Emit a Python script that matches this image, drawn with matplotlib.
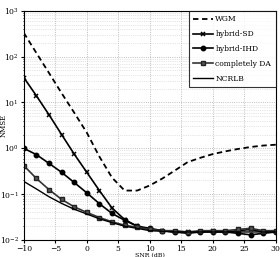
import numpy as np
import matplotlib
matplotlib.use("Agg")
import matplotlib.pyplot as plt

# SNR grid (dB)
snr = [-10, -8, -6, -4, -2, 0, 2, 4, 6, 8, 10, 12, 14, 16, 18, 20, 22, 24, 26, 28, 30]

# NMSE values
wgm = [330, 120, 44, 16, 6.0, 2.2, 0.66, 0.23, 0.12, 0.12, 0.155, 0.22, 0.33, 0.5,
       0.62, 0.75, 0.86, 0.97, 1.07, 1.15, 1.2]
hybrid_sd = [35, 14, 5.4, 2.0, 0.75, 0.30, 0.12, 0.05, 0.028, 0.02, 0.017, 0.016,
             0.015, 0.015, 0.015, 0.016, 0.015, 0.016, 0.017, 0.015, 0.015]
hybrid_ihd = [1.0, 0.73, 0.47, 0.30, 0.18, 0.107, 0.062, 0.038, 0.027, 0.02, 0.018,
              0.016, 0.015, 0.014, 0.015, 0.015, 0.015, 0.014, 0.013, 0.014, 0.015]
comp_da = [0.42, 0.22, 0.126, 0.077, 0.053, 0.04, 0.031, 0.025, 0.021, 0.019, 0.017,
           0.016, 0.016, 0.015, 0.016, 0.016, 0.016, 0.017, 0.018, 0.016, 0.016]
ncrlb = [0.19, 0.13, 0.088, 0.063, 0.047, 0.037, 0.029, 0.024, 0.02, 0.018, 0.016,
         0.0155, 0.015, 0.015, 0.015, 0.015, 0.015, 0.015, 0.015, 0.015, 0.015]

plt.rcParams['font.family'] = ['DejaVu Serif']

fig = plt.figure(figsize=(2.80, 2.57), dpi=100)
ax = fig.add_axes([0.085, 0.066, 0.900, 0.892])

ax.semilogy(snr, wgm, 'k--', lw=1.3, dashes=(3, 2), label='WGM')
ax.semilogy(snr, hybrid_sd, 'k-', lw=1.2, marker='x', ms=3.5, mew=1.1, label='hybrid-SD')
ax.semilogy(snr, hybrid_ihd, 'k-', lw=1.2, marker='o', ms=3.2, label='hybrid-IHD')
ax.semilogy(snr, comp_da, '-', color='#333333', lw=1.2, marker='s', ms=3.0,
            mfc='#555555', mec='#222222', label='completely DA')
ax.semilogy(snr, ncrlb, 'k-', lw=1.0, label='NCRLB')

ax.set_xlim(-10, 30)
ax.set_ylim(1e-2, 1e3)
ax.set_xticks([-10, -5, 0, 5, 10, 15, 20, 25, 30])
ax.grid(True, which='major', color='#aaaaaa', ls=':', lw=0.6)
ax.grid(True, which='minor', axis='y', color='#cccccc', ls=':', lw=0.5)
ax.tick_params(labelsize=5.5, length=2, pad=1.5)
ax.tick_params(which='minor', length=1)

ax.set_xlabel('SNR (dB)', fontsize=4.5)
ax.xaxis.set_label_coords(0.5, -0.058)
ax.set_ylabel('NMSE', fontsize=5)
ax.yaxis.set_label_coords(-0.062, 0.5)

leg = ax.legend(loc='upper right', fontsize=5.5, frameon=True, fancybox=False,
                edgecolor='black', handlelength=2.6, borderpad=0.6,
                labelspacing=0.9, handletextpad=0.3, borderaxespad=0.0)
leg.get_frame().set_linewidth(0.8)

fig.savefig('out.png', dpi=100)
